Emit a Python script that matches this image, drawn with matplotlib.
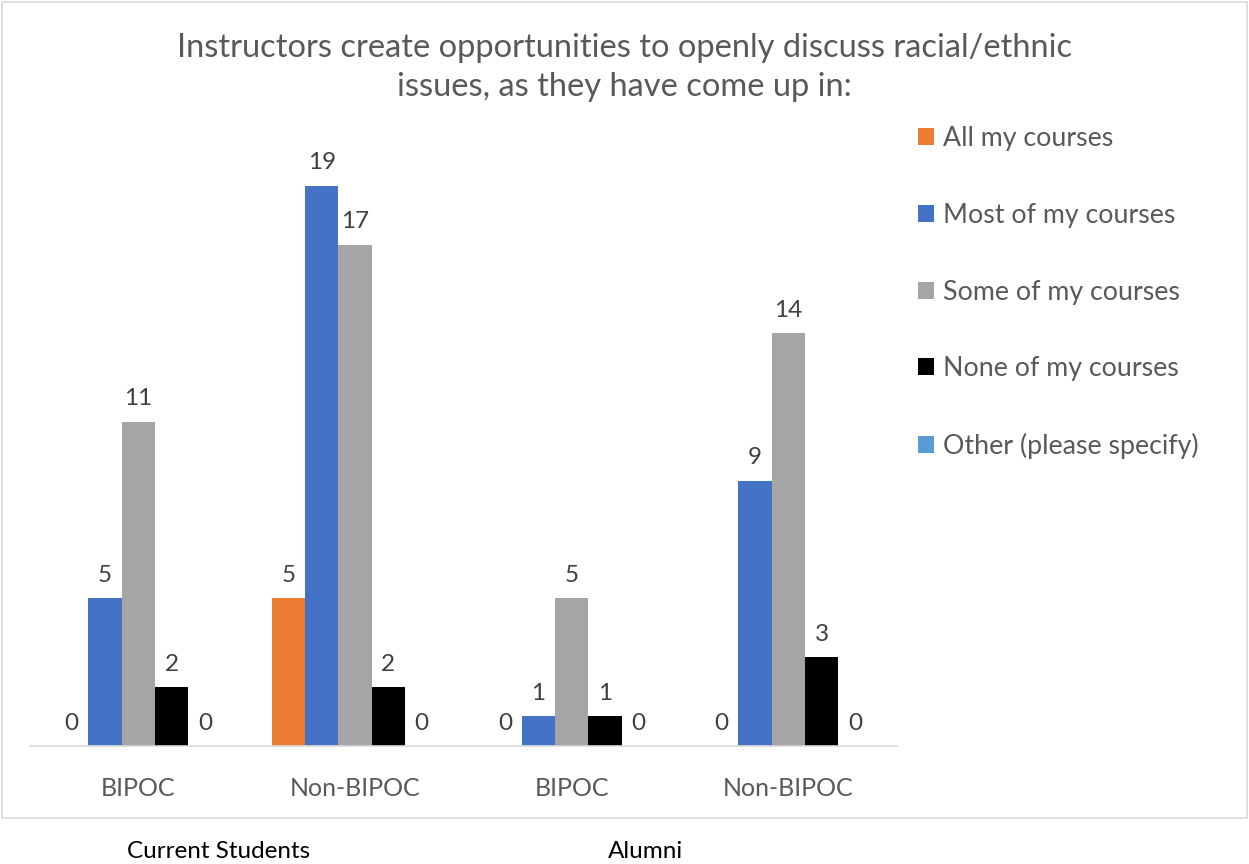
import matplotlib.pyplot as plt
import numpy as np
from matplotlib.patches import Rectangle

plt.rcParams["font.family"] = ["Lato", "DejaVu Sans"]

groups = ["BIPOC", "Non-BIPOC", "BIPOC", "Non-BIPOC"]
series = ["All my courses", "Most of my courses", "Some of my courses",
          "None of my courses", "Other (please specify)"]
values = [
    [0, 5, 0, 0],     # All my courses
    [5, 19, 1, 9],    # Most of my courses
    [11, 17, 5, 14],  # Some of my courses
    [2, 2, 1, 3],     # None of my courses
    [0, 0, 0, 0],     # Other (please specify)
]
colors = ["#ED7D31", "#4472C4", "#A5A5A5", "#000000", "#5B9BD5"]
title = "Instructors create opportunities to openly discuss racial/ethnic\nissues, as they have come up in:"
outer_labels = ["Current Students", "Alumni"]

text_gray = "#595959"

fig = plt.figure(figsize=(12.49, 8.64), dpi=100)
ax = fig.add_axes([0.024, 0.1366, 0.694, 0.6828])

x = np.arange(len(groups))
width = 0.154
for i, (name, vals, c) in enumerate(zip(series, values, colors)):
    pos = x + (i - 2) * width
    bars = ax.bar(pos, vals, width, color=c, label=name)
    for xp, v in zip(pos, vals):
        ax.text(xp, v + 0.42, str(v), ha="center", va="bottom",
                fontsize=17.5, color="#404040")

ax.set_xlim(-0.5, len(groups) - 0.5)
ax.set_ylim(0, 20)
ax.set_xticks(x)
ax.set_xticklabels(groups, fontsize=18, color=text_gray)
ax.tick_params(axis="x", length=0, pad=22)
ax.set_yticks([])
for s in ["top", "right", "left"]:
    ax.spines[s].set_visible(False)
ax.spines["bottom"].set_color("#D9D9D9")
ax.spines["bottom"].set_linewidth(1.2)

fig.text(0.5, 0.962, title, ha="center", va="top", fontsize=23.5,
         color=text_gray, linespacing=1.38)

fig.legend(loc="upper left", bbox_to_anchor=(0.716, 0.882), frameon=False,
           fontsize=19.3, labelcolor=text_gray, handlelength=0.6,
           handleheight=0.6, handletextpad=0.3, labelspacing=1.93)

# chart frame
fig.patches.append(Rectangle((0.002, 0.053), 0.996, 0.945, transform=fig.transFigure,
                             fill=False, edgecolor="#D9D9D9", linewidth=1.2))

fig.text(0.175, 0.002, outer_labels[0], ha="center", va="bottom", fontsize=17.5, color="black")
fig.text(0.517, 0.002, outer_labels[1], ha="center", va="bottom", fontsize=17.5, color="black")

fig.savefig("out.png", dpi=100)
